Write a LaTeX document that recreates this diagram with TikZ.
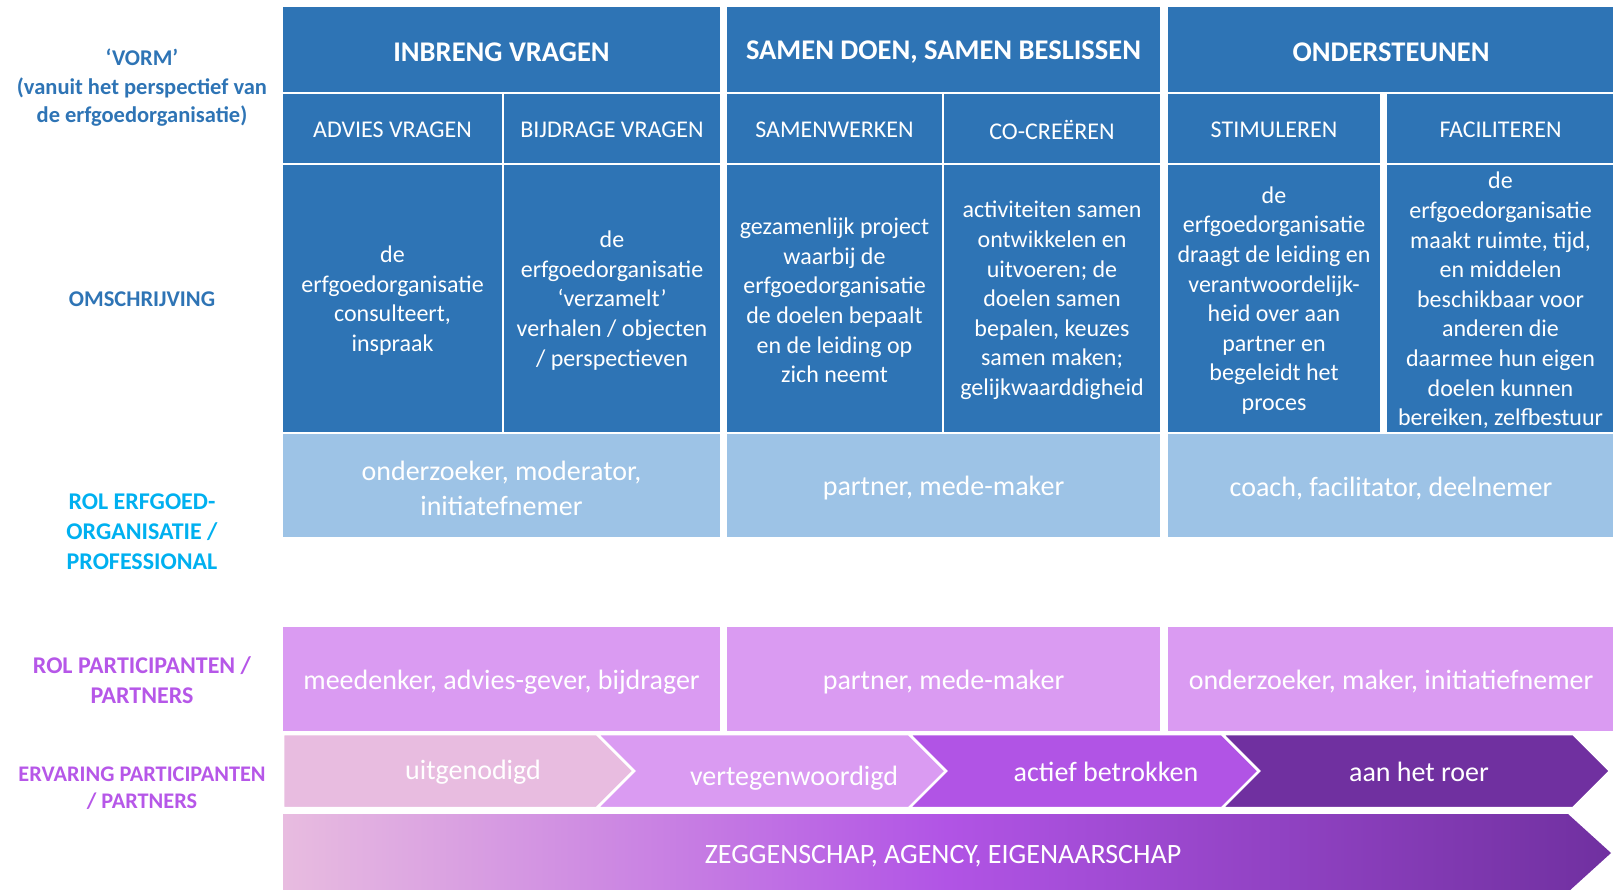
\documentclass[tikz,border=0pt]{standalone}
\usepackage{fontspec}
\setmainfont{Carlito}
\definecolor{hdrblue}{HTML}{2E74B5}
\definecolor{lightblue}{HTML}{9DC3E6}
\definecolor{cyanlbl}{HTML}{00B0F0}
\definecolor{purplerow}{HTML}{DA9BF2}
\definecolor{purplelbl}{HTML}{B657E8}
\definecolor{chevA}{HTML}{E8BCE0}
\definecolor{chevB}{HTML}{DA9BF2}
\definecolor{chevC}{HTML}{B154E5}
\definecolor{chevD}{HTML}{7030A0}
\pgfdeclarehorizontalshading{zegshade}{100bp}{color(0bp)=(chevA); color(25bp)=(chevA); color(50bp)=(chevC); color(75bp)=(chevD); color(100bp)=(chevD)}
% \tcell{name}{fill style}{text style}{cx}{cy}{w}{h}{text}
\newcommand\tcell[8]{%
  \node[cellbox, #2, minimum width=#6, minimum height=#7] (#1) at (#4,#5) {};
  \node[#3] (#1-t) at (#1.center) {#8};
}
\begin{document}
\begin{tikzpicture}[x=1pt,y=-1pt,
  cellbox/.style={inner sep=0pt, outer sep=0pt},
  blue/.style={fill=hdrblue},
  lblue/.style={fill=lightblue},
  lpurple/.style={fill=purplerow},
  celltext/.style={inner sep=0pt, text=white, align=center},
  hdrtext/.style={celltext, font=\fontsize{28.5}{34}\selectfont\bfseries, yshift=-2.5pt},
  subtext/.style={celltext, font=\fontsize{24}{29.5}\selectfont, yshift=-1.5pt},
  desctext/.style={celltext, font=\fontsize{24}{29.6}\selectfont, yshift=-2pt},
  rowtext/.style={celltext, font=\fontsize{28}{35}\selectfont, yshift=-3pt},
  chevtext/.style={inner sep=0pt, text=white, font=\fontsize{28}{34}\selectfont},
  chevshape/.style={draw=white, line width=2.5pt, line join=miter},
  lbl/.style={inner sep=0pt, align=center}
]
\useasboundingbox (0,0) rectangle (1613,890);

% header row
\tcell{h1}{blue}{hdrtext}{501.5}{49.5}{437}{85}{INBRENG VRAGEN}
\tcell{h2}{blue}{hdrtext}{943.5}{49.5}{433}{85}{SAMEN DOEN, SAMEN BESLISSEN}
\tcell{h3}{blue}{hdrtext}{1391}{49.5}{446}{85}{ONDERSTEUNEN}

% sub header row
\tcell{s1}{blue}{subtext}{392.5}{128.5}{219}{69}{ADVIES VRAGEN}
\tcell{s2}{blue}{subtext}{612}{128.5}{216}{69}{BIJDRAGE VRAGEN}
\tcell{s3}{blue}{subtext}{834.5}{128.5}{215}{69}{SAMENWERKEN}
\tcell{s4}{blue}{subtext}{1052}{128.5}{216}{69}{CO-CREËREN}
\tcell{s5}{blue}{subtext}{1274}{128.5}{212}{69}{STIMULEREN}
\tcell{s6}{blue}{subtext}{1500.5}{128.5}{227}{69}{FACILITEREN}

% description row
\tcell{d1}{blue}{desctext}{392.5}{298.5}{219}{267}{de\\erfgoedorganisatie\\consulteert,\\inspraak}
\tcell{d2}{blue}{desctext}{612}{298.5}{216}{267}{de\\erfgoedorganisatie\\‘verzamelt’\\verhalen / objecten\\/ perspectieven}
\tcell{d3}{blue}{desctext}{834.5}{298.5}{215}{267}{gezamenlijk project\\waarbij de\\erfgoedorganisatie\\de doelen bepaalt\\en de leiding op\\zich neemt}
\tcell{d4}{blue}{desctext}{1052}{298.5}{216}{267}{activiteiten samen\\ontwikkelen en\\uitvoeren; de\\doelen samen\\bepalen, keuzes\\samen maken;\\gelijkwaarddigheid}
\tcell{d5}{blue}{desctext}{1274}{298.5}{212}{267}{de\\erfgoedorganisatie\\draagt de leiding en\\verantwoordelijk-\\heid over aan\\partner en\\begeleidt het\\proces}
\tcell{d6}{blue}{desctext}{1500.5}{298.5}{227}{267}{de\\erfgoedorganisatie\\maakt ruimte, tijd,\\en middelen\\beschikbaar voor\\anderen die\\daarmee hun eigen\\doelen kunnen\\bereiken, zelfbestuur}

% role heritage organisation row
\tcell{r1}{lblue}{rowtext}{501.5}{485.5}{437}{103}{onderzoeker, moderator,\\initiatefnemer}
\tcell{r2}{lblue}{rowtext}{943.5}{485.5}{433}{103}{partner, mede-maker}
\tcell{r3}{lblue}{rowtext}{1391}{485.5}{446}{103}{coach, facilitator, deelnemer}

% role participants row
\tcell{p1}{lpurple}{rowtext}{501.5}{679}{437}{104}{meedenker, advies-gever, bijdrager}
\tcell{p2}{lpurple}{rowtext}{943.5}{679}{433}{104}{partner, mede-maker}
\tcell{p3}{lpurple}{rowtext}{1391}{679}{446}{104}{onderzoeker, maker, initiatiefnemer}

% chevrons
\filldraw[chevshape, fill=chevA] (283,734) -- (597,734) -- (634,771) -- (597,808) -- (283,808) -- cycle;
\filldraw[chevshape, fill=chevB] (597,734) -- (909,734) -- (946,771) -- (909,808) -- (597,808) -- (634,771) -- cycle;
\filldraw[chevshape, fill=chevC] (909,734) -- (1222,734) -- (1259,771) -- (1222,808) -- (909,808) -- (946,771) -- cycle;
\filldraw[chevshape, fill=chevD] (1222,734) -- (1573,734) -- (1610,771) -- (1573,808) -- (1222,808) -- (1259,771) -- cycle;
\node[chevtext] (e1) at (473,772) {uitgenodigd};
\node[chevtext] (e2) at (794,778) {vertegenwoordigd};
\node[chevtext] (e3) at (1106,772) {actief betrokken};
\node[chevtext] (e4) at (1419,772) {aan het roer};

% bottom arrow
\shade[shading=zegshade]
  (283,814) -- (1568,814) -- (1611,853) -- (1568,892) -- (283,892) -- cycle;
\node[chevtext] (z) at (943,856) {ZEGGENSCHAP, AGENCY, EIGENAARSCHAP};

% left labels
\node[lbl, text=hdrblue, font=\fontsize{22.5}{28.5}\selectfont\bfseries] (lv) at (142,88) {‘VORM’\\(vanuit het perspectief van\\de erfgoedorganisatie)};
\node[lbl, text=hdrblue, font=\fontsize{22.5}{28}\selectfont\bfseries] (lo) at (142,299.5) {OMSCHRIJVING};
\node[lbl, text=cyanlbl, font=\fontsize{24}{30}\selectfont\bfseries] (lr) at (142,532) {ROL ERFGOED-\\ORGANISATIE /\\PROFESSIONAL};
\node[lbl, text=purplelbl, font=\fontsize{24}{30}\selectfont\bfseries] (lp) at (142,680) {ROL PARTICIPANTEN /\\PARTNERS};
\node[lbl, text=purplelbl, font=\fontsize{22.3}{26.7}\selectfont\bfseries] (le) at (142,788) {ERVARING PARTICIPANTEN\\/ PARTNERS};
\end{tikzpicture}
\end{document}
